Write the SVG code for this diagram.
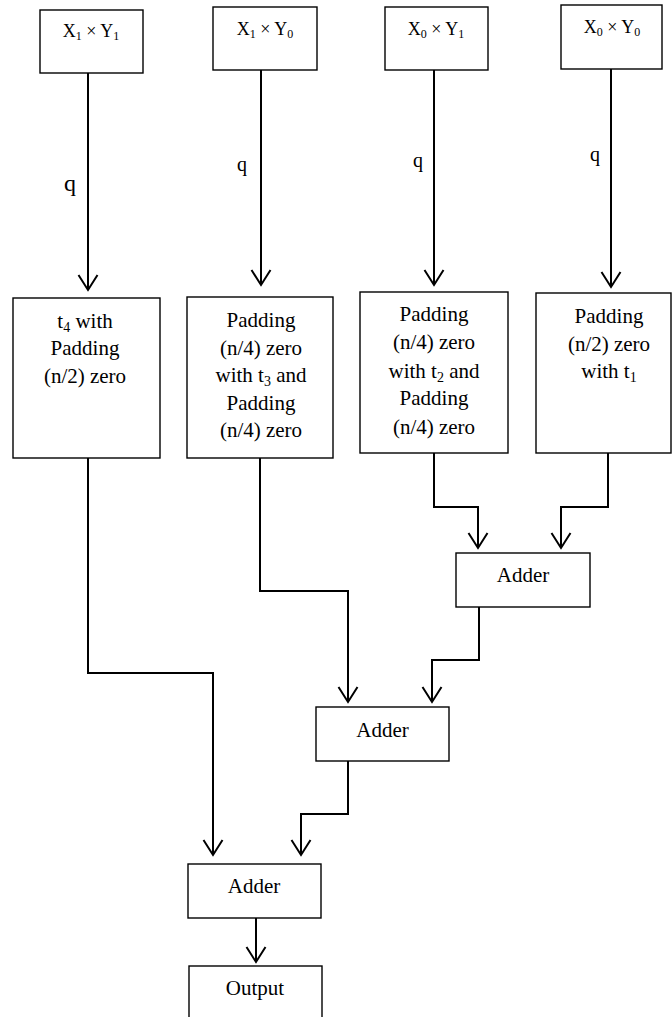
<svg xmlns="http://www.w3.org/2000/svg" width="672" height="1017" viewBox="0 0 672 1017">
<style>
.box{fill:#fff;stroke:#000;stroke-width:1.4}
.t{font-family:"Liberation Serif","Times New Roman",serif;fill:#000;text-anchor:middle}
.t18{font-size:18px}
.t21{font-size:21px}
.sub{font-size:12px}
.conn{fill:none;stroke:#000;stroke-width:2}
</style>
<defs>
<marker id="arr" markerUnits="userSpaceOnUse" markerWidth="40" markerHeight="40" refX="0" refY="0" orient="auto" overflow="visible">
<path d="M-15,-9.5 L0,0 L-15,9.5" fill="none" stroke="#000" stroke-width="2"/>
</marker>
</defs>
<rect width="672" height="1017" fill="#fff"/>
<g id="connectors">
<path class="conn" d="M88,73 V290" marker-end="url(#arr)"/>
<path class="conn" d="M261,70 V285" marker-end="url(#arr)"/>
<path class="conn" d="M434,70 V285" marker-end="url(#arr)"/>
<path class="conn" d="M611,69 V287" marker-end="url(#arr)"/>
<path class="conn" d="M88,458 V673 H213 V855" marker-end="url(#arr)"/>
<path class="conn" d="M260,458 V591 H348 V702" marker-end="url(#arr)"/>
<path class="conn" d="M434,453 V507 H478 V548" marker-end="url(#arr)"/>
<path class="conn" d="M608,453 V507 H561 V548" marker-end="url(#arr)"/>
<path class="conn" d="M479,607 V660 H432 V702" marker-end="url(#arr)"/>
<path class="conn" d="M348,761 V814 H301 V855" marker-end="url(#arr)"/>
<path class="conn" d="M256,918 V962" marker-end="url(#arr)"/>
<text class="t" x="70" y="191" style="font-size:24px">q</text>
<text class="t" x="242" y="171" style="font-size:20px">q</text>
<text class="t" x="418" y="167" style="font-size:20px">q</text>
<text class="t" x="595" y="161" style="font-size:20px">q</text>
</g>
<g id="x1y1">
<rect class="box" x="40" y="10" width="103" height="63"/>
<text class="t t18" x="91" y="37">X<tspan class="sub" dy="3">1</tspan><tspan dy="-3"> × Y</tspan><tspan class="sub" dy="3">1</tspan></text>
</g>
<g id="x1y0">
<rect class="box" x="213" y="7" width="104" height="63"/>
<text class="t t18" x="265" y="35">X<tspan class="sub" dy="3">1</tspan><tspan dy="-3"> × Y</tspan><tspan class="sub" dy="3">0</tspan></text>
</g>
<g id="x0y1">
<rect class="box" x="385" y="7" width="103" height="63"/>
<text class="t t18" x="436" y="35">X<tspan class="sub" dy="3">0</tspan><tspan dy="-3"> × Y</tspan><tspan class="sub" dy="3">1</tspan></text>
</g>
<g id="x0y0">
<rect class="box" x="561" y="5" width="101" height="64"/>
<text class="t t18" x="612" y="33">X<tspan class="sub" dy="3">0</tspan><tspan dy="-3"> × Y</tspan><tspan class="sub" dy="3">0</tspan></text>
</g>
<g id="t4box">
<rect class="box" x="13" y="298" width="147" height="160"/>
<text class="t t21" x="85" y="328">t<tspan class="sub" style="font-size:14px" dy="4">4</tspan><tspan dy="-4"> with</tspan></text>
<text class="t t21" x="85" y="355">Padding</text>
<text class="t t21" x="85" y="383">(n/2) zero</text>
</g>
<g id="t3box">
<rect class="box" x="187" y="297" width="146" height="161"/>
<text class="t t21" x="261" y="327">Padding</text>
<text class="t t21" x="261" y="355">(n/4) zero</text>
<text class="t t21" x="261" y="382">with t<tspan class="sub" style="font-size:14px" dy="4">3</tspan><tspan dy="-4"> and</tspan></text>
<text class="t t21" x="261" y="410">Padding</text>
<text class="t t21" x="261" y="437">(n/4) zero</text>
</g>
<g id="t2box">
<rect class="box" x="360" y="292" width="148" height="161"/>
<text class="t t21" x="434" y="321">Padding</text>
<text class="t t21" x="434" y="349">(n/4) zero</text>
<text class="t t21" x="434" y="378">with t<tspan class="sub" style="font-size:14px" dy="4">2</tspan><tspan dy="-4"> and</tspan></text>
<text class="t t21" x="434" y="405">Padding</text>
<text class="t t21" x="434" y="434">(n/4) zero</text>
</g>
<g id="t1box">
<rect class="box" x="536" y="293" width="135" height="160"/>
<text class="t t21" x="609" y="323">Padding</text>
<text class="t t21" x="609" y="351">(n/2) zero</text>
<text class="t t21" x="609" y="378">with t<tspan class="sub" style="font-size:14px" dy="4">1</tspan></text>
</g>
<g id="adder1">
<rect class="box" x="456" y="553" width="134" height="54"/>
<text class="t t21" x="523" y="582">Adder</text>
</g>
<g id="adder2">
<rect class="box" x="316" y="707" width="133" height="54"/>
<text class="t t21" x="382.5" y="737">Adder</text>
</g>
<g id="adder3">
<rect class="box" x="188" y="864" width="133" height="54"/>
<text class="t t21" x="254" y="893">Adder</text>
</g>
<g id="output">
<rect class="box" x="189" y="966" width="133" height="70"/>
<text class="t t21" x="255" y="995">Output</text>
</g>
</svg>
